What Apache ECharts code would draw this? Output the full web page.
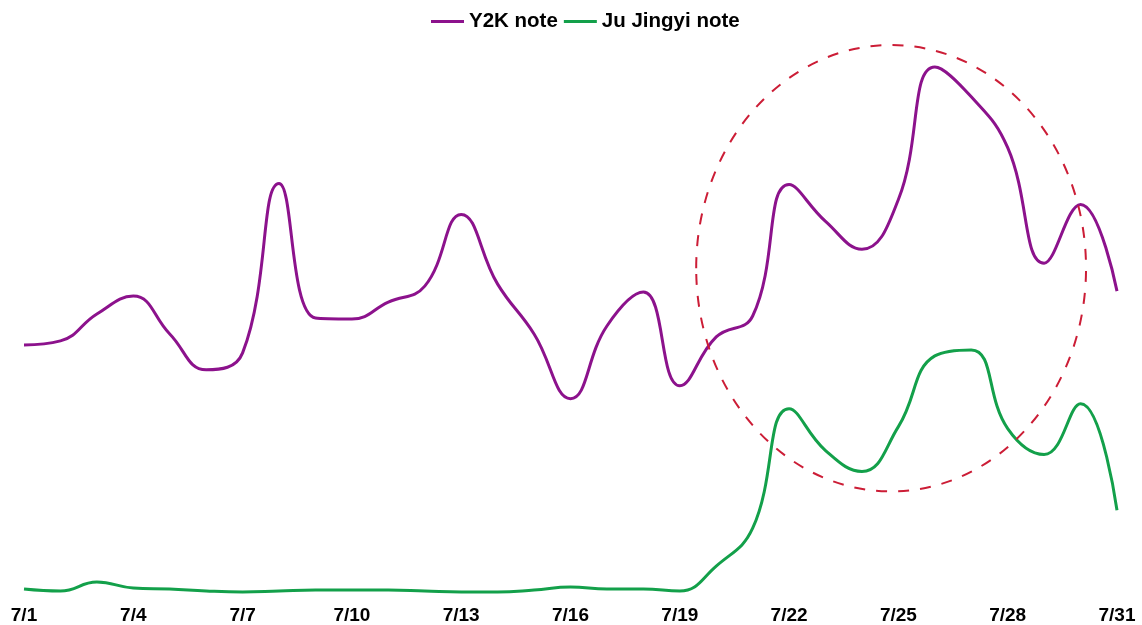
<!DOCTYPE html>
<html>
<head>
<meta charset="utf-8">
<script src="https://cdn.jsdelivr.net/npm/echarts@6/dist/echarts.min.js"></script>
<style>
  html, body { margin: 0; padding: 0; background: #fff; }
  #main { width: 1142px; height: 625px; }
</style>
</head>
<body>
<div id="main"></div>
<script>
// days of July
var days = ['7/1', '7/2', '7/3', '7/4', '7/5', '7/6', '7/7', '7/8', '7/9', '7/10', '7/11', '7/12', '7/13', '7/14', '7/15', '7/16',
            '7/17', '7/18', '7/19', '7/20', '7/21', '7/22', '7/23', '7/24', '7/25', '7/26', '7/27', '7/28', '7/29', '7/30', '7/31'];

var y2kNote = [502, 510, 564, 600, 524, 452, 486, 826, 556, 554, 588, 620, 764, 624, 524, 394,
               540, 608, 420, 518, 560, 824, 750, 694, 794, 1060, 1000, 898, 666, 784, 610];
var juNote = [12, 8, 26, 14, 12, 8, 6, 8, 10, 10, 10, 8, 6, 6, 10, 16,
              12, 12, 8, 58, 134, 374, 290, 248, 338, 480, 492, 334, 282, 384, 170];

// highlighted region: centre (day index, value) and radii
var focusCenter = [23.8, 656];
var focusRadius = [5.35, 448];

var myChart = echarts.init(document.getElementById('main'));

option = {
    backgroundColor: '#fff',
    animation: false,
    legend: {
        top: 6,
        left: 426,
        itemWidth: 33,
        itemHeight: 10,
        itemGap: 6,
        icon: 'path://M0,3.5 L33,3.5 L33,6.5 L0,6.5 Z',
        textStyle: {
            fontFamily: 'Liberation Sans',
            fontWeight: 'bold',
            fontSize: 20.5,
            color: '#000'
        },
        data: ['Y2K note', 'Ju Jingyi note']
    },
    grid: {
        left: 24,
        right: 25,
        top: 47,
        bottom: 28,
        containLabel: false
    },
    xAxis: {
        type: 'category',
        boundaryGap: false,
        data: days,
        axisLine: { show: false },
        axisTick: { show: false },
        axisLabel: {
            interval: 2,
            margin: 11,
            color: '#000',
            fontFamily: 'Liberation Sans',
            fontWeight: 'bold',
            fontSize: 19
        }
    },
    yAxis: {
        type: 'value',
        min: 0,
        max: 1100,
        show: false,
        splitLine: { show: false }
    },
    series: [{
        name: 'Y2K note',
        type: 'line',
        smooth: 0.45,
        showSymbol: false,
        symbol: 'none',
        color: '#8c128c',
        lineStyle: { width: 3, color: '#8c128c' },
        data: y2kNote
    }, {
        name: 'Ju Jingyi note',
        type: 'line',
        smooth: 0.45,
        showSymbol: false,
        symbol: 'none',
        color: '#13a04a',
        lineStyle: { width: 3, color: '#13a04a' },
        data: juNote
    }]
};
myChart.setOption(option);

// dashed ellipse around the last days (category axis only converts whole indexes)
var p0 = myChart.convertToPixel({ gridIndex: 0 }, [0, 0]);
var p1 = myChart.convertToPixel({ gridIndex: 0 }, [1, focusCenter[1]]);
var pr = myChart.convertToPixel({ gridIndex: 0 }, [0, focusCenter[1] + focusRadius[1]]);
var dayStep = p1[0] - p0[0];
var cx = p0[0] + focusCenter[0] * dayStep;
var cy = p1[1];
myChart.setOption({
    graphic: [{
        type: 'ellipse',
        shape: { cx: cx, cy: cy, rx: focusRadius[0] * dayStep, ry: Math.abs(cy - pr[1]) },
        style: { fill: 'none', stroke: '#cc1d36', lineWidth: 2, lineDash: [11, 11] },
        z: 10
    }]
});
</script>
</body>
</html>
